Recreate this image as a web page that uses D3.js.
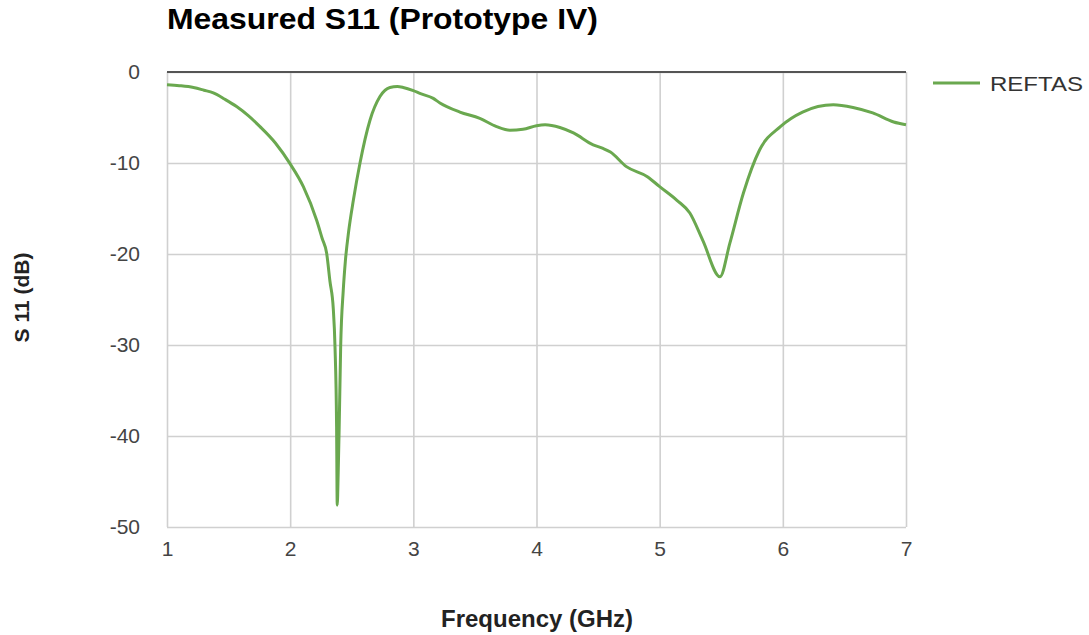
<!DOCTYPE html>
<html>
<head>
<meta charset="utf-8">
<title>Measured S11</title>
<script src="https://cdn.jsdelivr.net/npm/d3@7"></script>
<style>
  body { margin: 0; background: #fff; }
  text { font-family: "Liberation Sans", Arial, sans-serif; }
</style>
</head>
<body>
<div id="chart"></div>
<script>
// frequency (GHz) and S11 (dB)
const freq = [1.0, 1.1, 1.215, 1.3, 1.376, 1.47, 1.565, 1.66, 1.755, 1.88, 2.0, 2.107, 2.215, 2.26, 2.296,
  2.323, 2.35, 2.364, 2.377, 2.382, 2.39, 2.398, 2.41, 2.431, 2.448, 2.475, 2.513, 2.567, 2.648, 2.729,
  2.81, 2.87, 2.918, 3.0, 3.053, 3.162, 3.216, 3.378, 3.54, 3.676, 3.784, 3.89, 4.0, 4.07, 4.19, 4.3,
  4.46, 4.54, 4.6, 4.73, 4.9, 5.0, 5.14, 5.245, 5.35, 5.49, 5.57, 5.68, 5.81, 5.98, 6.16, 6.41, 6.57,
  6.73, 6.9, 7.0];
const s11 = [-1.4, -1.5, -1.7, -2.0, -2.3, -3.0, -3.8, -4.8, -6.0, -7.8, -10.1, -12.6, -16.3, -18.3, -19.9,
  -23, -26, -30.2, -39, -47.6, -44, -39, -30.2, -24, -20.8, -17.5, -14.1, -10.0, -5.3, -2.7,
  -1.7, -1.6, -1.7, -2.05, -2.35, -2.9, -3.4, -4.4, -5.1, -6.0, -6.4, -6.3, -5.9, -5.8, -6.1, -6.7,
  -8.0, -8.4, -8.8, -10.4, -11.5, -12.6, -14.1, -15.5, -18.5, -22.5, -18.8, -13.3, -8.6, -6.0, -4.4, -3.6, -3.9,
  -4.5, -5.5, -5.8];
const xTicks = [1, 2, 3, 4, 5, 6, 7];
const yTicks = [0, -10, -20, -30, -40, -50];
const seriesName = "REFTAS";

const width = 1089, height = 635;
const margin = {top: 72, right: 183, bottom: 108, left: 167};
const color = "#6aa84f";

const x = d3.scaleLinear().domain([1, 7]).range([margin.left, width - margin.right]);
const y = d3.scaleLinear().domain([-50, 0]).range([height - margin.bottom, margin.top]);

const svg = d3.select("#chart").append("svg")
    .attr("width", width)
    .attr("height", height);

// grid + tick labels (plain hyphen minus, like the original)
svg.append("g")
    .attr("transform", `translate(0,${y(-50)})`)
    .call(d3.axisBottom(x).tickValues(xTicks).tickSize(-(y(-50) - y(0))).tickPadding(14).tickFormat(d => String(d)))
    .call(g => g.select(".domain").remove())
    .call(g => g.selectAll("line").attr("stroke", "#d0d0d0").attr("stroke-width", 1.6))
    .call(g => g.selectAll("text").attr("font-size", 21).attr("fill", "#444")
        .style("font-family", "'Liberation Sans', Arial, sans-serif"));

svg.append("g")
    .attr("transform", `translate(${margin.left},0)`)
    .call(d3.axisLeft(y).tickValues(yTicks).tickSize(-(x(7) - x(1))).tickPadding(27).tickFormat(d => String(d)))
    .call(g => g.select(".domain").remove())
    .call(g => g.selectAll("line").attr("stroke", "#d0d0d0").attr("stroke-width", 1.6))
    .call(g => g.selectAll("text").attr("font-size", 21).attr("fill", "#444")
        .style("font-family", "'Liberation Sans', Arial, sans-serif"));

// zero baseline
svg.append("line")
    .attr("x1", x(1)).attr("x2", x(7))
    .attr("y1", y(0)).attr("y2", y(0))
    .attr("stroke", "#555").attr("stroke-width", 2);

// series
const line = d3.line()
    .x((d, i) => x(freq[i]))
    .y(d => y(d))
    .curve(d3.curveMonotoneX);

svg.append("path")
    .datum(s11)
    .attr("fill", "none")
    .attr("stroke", color)
    .attr("stroke-width", 3)
    .attr("stroke-linejoin", "round")
    .attr("d", line);

// title
svg.append("text")
    .attr("x", margin.left)
    .attr("y", 29)
    .attr("font-size", 29)
    .attr("font-weight", "bold")
    .attr("fill", "#000")
    .attr("textLength", 431)
    .attr("lengthAdjust", "spacingAndGlyphs")
    .text("Measured S11 (Prototype IV)");

// axis titles
svg.append("text")
    .attr("x", 537)
    .attr("y", 627)
    .attr("text-anchor", "middle")
    .attr("font-size", 23)
    .attr("font-weight", "bold")
    .attr("fill", "#222")
    .attr("textLength", 192)
    .attr("lengthAdjust", "spacingAndGlyphs")
    .text("Frequency (GHz)");

svg.append("text")
    .attr("transform", `translate(29,${(y(0) + y(-50)) / 2 - 2}) rotate(-90)`)
    .attr("text-anchor", "middle")
    .attr("font-size", 21)
    .attr("font-weight", "bold")
    .attr("fill", "#222")
    .text("S 11 (dB)");

// legend
const legend = svg.append("g").attr("transform", "translate(933,83)");
legend.append("line")
    .attr("x1", 0).attr("x2", 47)
    .attr("stroke", color).attr("stroke-width", 3);
legend.append("text")
    .attr("x", 57)
    .attr("y", 8)
    .attr("font-size", 21)
    .attr("fill", "#333")
    .attr("textLength", 93)
    .attr("lengthAdjust", "spacingAndGlyphs")
    .text(seriesName);
</script>
</body>
</html>
